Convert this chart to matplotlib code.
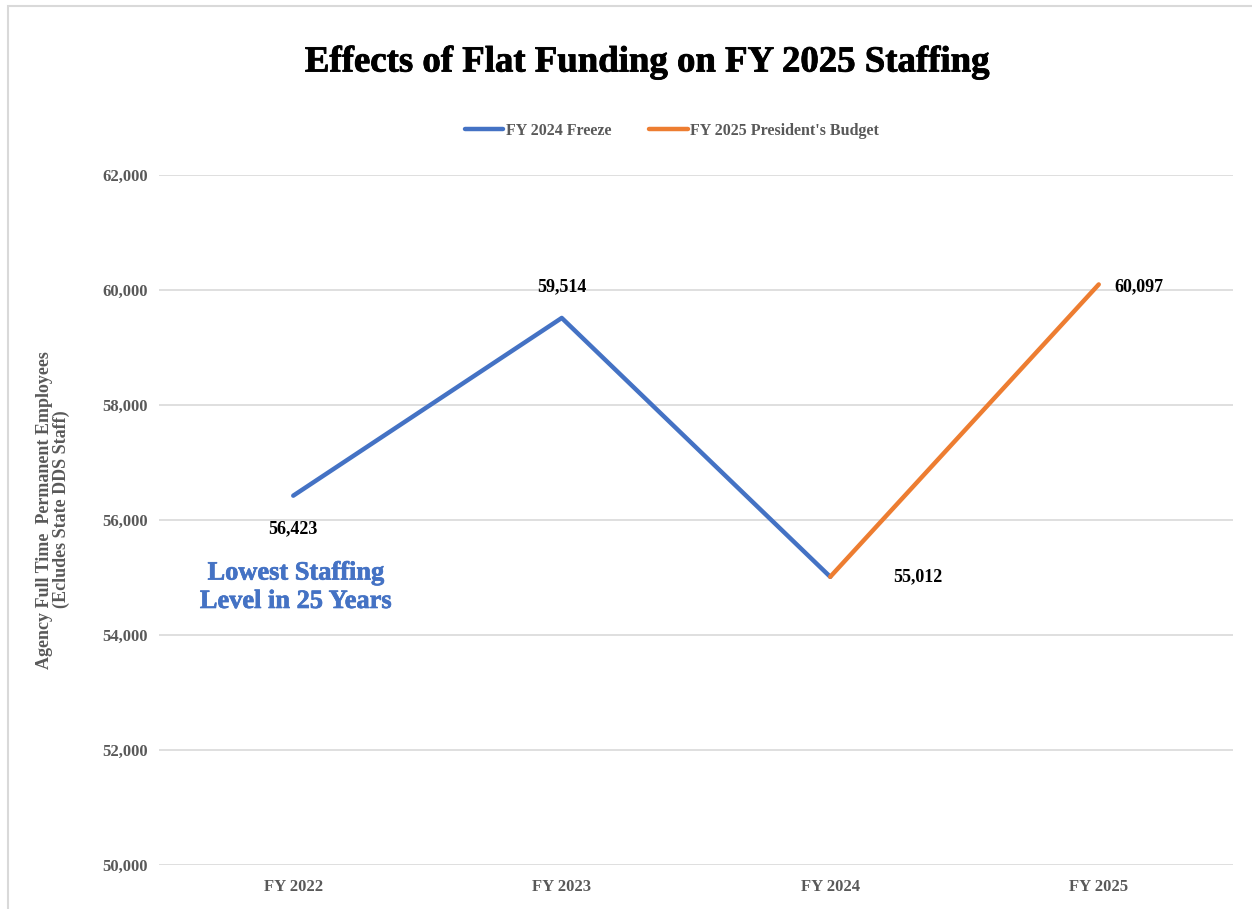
import matplotlib
matplotlib.use("Agg")
import matplotlib.pyplot as plt
from matplotlib.patches import Rectangle
import matplotlib.patheffects as pe

categories = ["FY 2022", "FY 2023", "FY 2024", "FY 2025"]
freeze_values = [56423, 59514, 55012]
budget_values = [55012, 60097]
label_values = [56423, 59514, 55012, 60097]
yticks = [50000, 52000, 54000, 56000, 58000, 60000, 62000]

BLUE = "#4472C4"
ORANGE = "#ED7D31"
GRAY = "#595959"
SERIF = ["Liberation Serif", "DejaVu Serif"]

plt.rcParams['font.family'] = SERIF
plt.rcParams['font.weight'] = 'bold'

fig = plt.figure(figsize=(12.52, 9.09), dpi=100)
fig.patch.set_facecolor("white")
ax = fig.add_axes([159/1252, 1-865/909, (1233-159)/1252, (865-175)/909])

x = list(range(len(categories)))
ax.plot(x[0:3], freeze_values, color=BLUE, lw=3.2, solid_capstyle='round', label="FY 2024 Freeze", zorder=3)
ax.plot(x[2:4], budget_values, color=ORANGE, lw=3.2, solid_capstyle='round', label="FY 2025 President's Budget", zorder=3)

ax.set_xlim(-0.5, 3.5)
ax.set_ylim(50000, 62000)
ax.set_yticks(yticks)
ax.set_yticklabels([f"{v:,}" for v in yticks])
ax.set_xticks(x)
ax.set_xticklabels(categories)
ax.tick_params(axis='both', length=0, labelsize=12, labelcolor=GRAY)
ax.tick_params(axis='y', pad=8)
ax.tick_params(axis='x', pad=10)
for lab in ax.get_xticklabels() + ax.get_yticklabels():
    lab.set_fontweight('bold')
ax.grid(axis='y', color="#d9d9d9", lw=1.2)
ax.set_axisbelow(True)
for s in ax.spines.values():
    s.set_visible(False)

# data labels
offsets = [(0, -33, 'center'), (0, 31, 'center'),
           (63, 0, 'left'), (16, -2, 'left')]
for i, v in enumerate(label_values):
    dx, dy, ha = offsets[i]
    ax.annotate(f"{v:,}", (x[i], v), xytext=(dx, dy), textcoords='offset pixels',
                ha=ha, va='center', fontsize=13, fontweight='bold', color="black")

ax.text(0.01, 54830, "Lowest Staffing\nLevel in 25 Years", ha='center', va='center',
        fontsize=19, fontweight='bold', color=BLUE, linespacing=1.3,
        path_effects=[pe.withStroke(linewidth=0.5, foreground=BLUE)])

ax.set_ylabel("Agency Full Time  Permanent Employees\n(Ecludes State DDS Staff)",
              fontsize=13, fontweight='bold', color=GRAY, linespacing=1.0)
ax.yaxis.set_label_coords(-0.083, 0.515)

fig.text(647/1252, 1-62/909, "Effects of Flat Funding on FY 2025 Staffing", ha='center', va='center',
         fontsize=26.5, fontweight='bold', color='black',
         path_effects=[pe.withStroke(linewidth=0.6, foreground='black')])

leg = fig.legend(loc='center', bbox_to_anchor=(672/1252, 1-131/909), ncol=2, frameon=False,
                 fontsize=11.5, handlelength=2.4, handletextpad=0.15, columnspacing=2.4)
for t in leg.get_texts():
    t.set_color(GRAY)
    t.set_fontweight('bold')

fig.patches.append(Rectangle((8/1252, -0.1), 1.2, (909-6)/909 + 0.1, transform=fig.transFigure,
                             fill=False, edgecolor="#d9d9d9", lw=1.5, zorder=0))

fig.savefig("out.png", dpi=100, facecolor="white")
